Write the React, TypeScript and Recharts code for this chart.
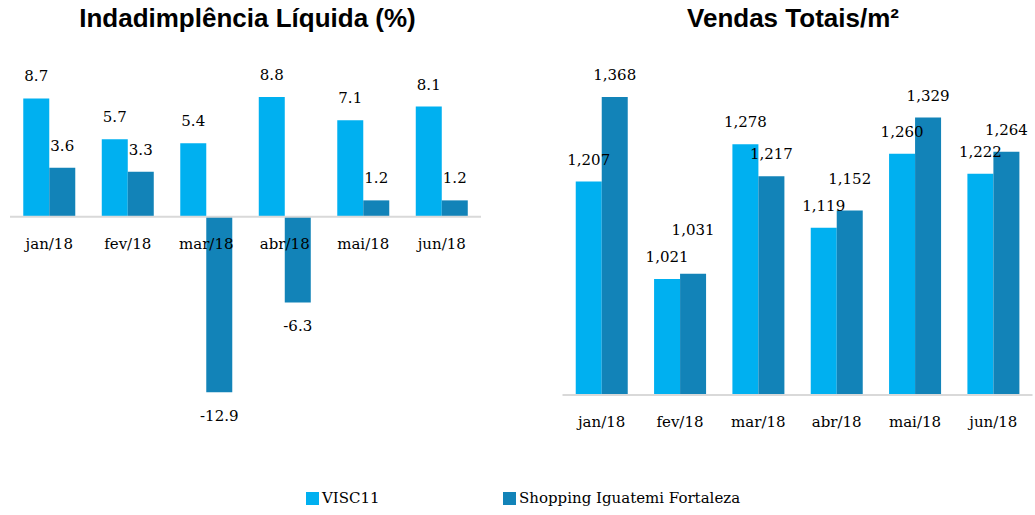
import React from 'react'
import { Bar, BarChart, LabelList, ReferenceLine, XAxis, YAxis } from 'recharts'

const months = ['jan/18', 'fev/18', 'mar/18', 'abr/18', 'mai/18', 'jun/18']
const inadVisc = [8.7, 5.7, 5.4, 8.8, 7.1, 8.1]
const inadIguatemi = [3.6, 3.3, -12.9, -6.3, 1.2, 1.2]
const vendasVisc = [1207, 1021, 1278, 1119, 1260, 1222]
const vendasIguatemi = [1368, 1031, 1217, 1152, 1329, 1264]

const LIGHT = '#00B0F0'
const DARK = '#1283B8'
const SERIF = '"DejaVu Serif", "Liberation Serif", serif'
const SANS = '"Liberation Sans", Arial, sans-serif'

const inadData = months.map((m, i) => ({ month: m, visc: inadVisc[i], igua: inadIguatemi[i] }))
const vendasData = months.map((m, i) => ({ month: m, visc: vendasVisc[i], igua: vendasIguatemi[i] }))

const INAD_DOMAIN: [number, number] = [-13, 9]
const INAD_PLOT_H = 299.2
const VENDAS_DOMAIN: [number, number] = [800, 1400]
// distance from the plot bottom up to the zero line
const zeroShift = INAD_PLOT_H * (0 - INAD_DOMAIN[0]) / (INAD_DOMAIN[1] - INAD_DOMAIN[0])

const fmtPct = (v: number) => v.toFixed(1)
const fmtNum = (v: number) => v.toLocaleString('en-US')

const valueText = (cx: number, ty: number, txt: string) => (
    <text x={cx} y={ty} textAnchor="middle" fontFamily={SERIF} fontSize={15} fill="#000">{txt}</text>
)

const makeLabel = (fmt: (v: number) => string) => (props: any) => {
    const { x, y, width, height, value } = props
    const top = Math.min(y, y + height)
    const bottom = Math.max(y, y + height)
    const ty = value >= 0 ? top - 17 : bottom + 29
    return valueText(x + width / 2, ty, fmt(value))
}

// dark labels on the sales chart get pushed up when they'd collide with the light one
const VendasDarkLabel = (props: any) => {
    const { x, y, width, height, value, index } = props
    const top = Math.min(y, y + height)
    const bottom = Math.max(y, y + height)
    const pxPerUnit = (bottom - top) / (value - VENDAS_DOMAIN[0])
    const lightTop = bottom - (vendasVisc[index] - VENDAS_DOMAIN[0]) * pxPerUnit
    let ty = top - 17
    const lightTy = lightTop - 17
    if (Math.abs(ty - lightTy) < 20) ty = Math.min(ty, lightTy - 27)
    return valueText(x + width / 2, ty, fmtNum(value))
}

const MonthTick = ({ x, y, payload, shift }: any) => (
    <text x={x} y={y - shift + 24} textAnchor="middle" fontFamily={SERIF} fontSize={15} fill="#000">
        {payload.value}
    </text>
)

const titleStyle: React.CSSProperties = {
    position: 'absolute', top: 3, fontFamily: SANS, fontWeight: 'bold', fontSize: 26,
    color: '#000', textAlign: 'center', whiteSpace: 'nowrap', lineHeight: '30px'
}

const App = () => {
    return (
        <div style={{ position: 'absolute', left: 0, top: 0, width: 1035, height: 515, background: '#fff' }}>
            <div style={{ ...titleStyle, left: 0, width: 495 }}>Indadimplência Líquida (%)</div>
            <div style={{ ...titleStyle, left: 545, width: 496 }}>Vendas Totais/m²</div>

            <div style={{ position: 'absolute', left: 0, top: 0 }}>
                <BarChart width={490} height={440} data={inadData}
                    margin={{ top: 94.3, right: 9, left: 10, bottom: 440 - 94.3 - INAD_PLOT_H - 30 }}
                    barCategoryGap="16.9%" barGap={0}>
                    <YAxis hide domain={INAD_DOMAIN} />
                    <ReferenceLine y={0} stroke="#d9d9d9" strokeWidth={2} />
                    <Bar dataKey="visc" fill={LIGHT} isAnimationActive={false}>
                        <LabelList dataKey="visc" content={makeLabel(fmtPct)} />
                    </Bar>
                    <Bar dataKey="igua" fill={DARK} isAnimationActive={false}>
                        <LabelList dataKey="igua" content={makeLabel(fmtPct)} />
                    </Bar>
                    <XAxis dataKey="month" height={30} axisLine={false} tickLine={false}
                        tick={<MonthTick shift={zeroShift} />} interval={0} />
                </BarChart>
            </div>

            <div style={{ position: 'absolute', left: 540, top: 0 }}>
                <BarChart width={495} height={440} data={vendasData}
                    margin={{ top: 80.3, right: 2.5, left: 22.5, bottom: 15 }}
                    barCategoryGap="16.9%" barGap={0}>
                    <YAxis hide domain={VENDAS_DOMAIN} />
                    <Bar dataKey="visc" fill={LIGHT} isAnimationActive={false}>
                        <LabelList dataKey="visc" content={makeLabel(fmtNum)} />
                    </Bar>
                    <Bar dataKey="igua" fill={DARK} isAnimationActive={false}>
                        <LabelList dataKey="igua" content={VendasDarkLabel} />
                    </Bar>
                    <XAxis dataKey="month" height={30} axisLine={{ stroke: '#d9d9d9', strokeWidth: 2 }}
                        tickLine={false} tick={<MonthTick shift={0} />} interval={0} />
                </BarChart>
            </div>

            <div style={{ position: 'absolute', top: 489, left: 306, fontFamily: SERIF, fontSize: 15, display: 'flex', alignItems: 'center' }}>
                <span style={{ width: 13, height: 13, background: LIGHT, display: 'inline-block', marginRight: 3 }} />
                <span>VISC11</span>
            </div>
            <div style={{ position: 'absolute', top: 489, left: 503, fontFamily: SERIF, fontSize: 15, display: 'flex', alignItems: 'center' }}>
                <span style={{ width: 13, height: 13, background: DARK, display: 'inline-block', marginRight: 3 }} />
                <span>Shopping Iguatemi Fortaleza</span>
            </div>
        </div>
    )
}

export default App
